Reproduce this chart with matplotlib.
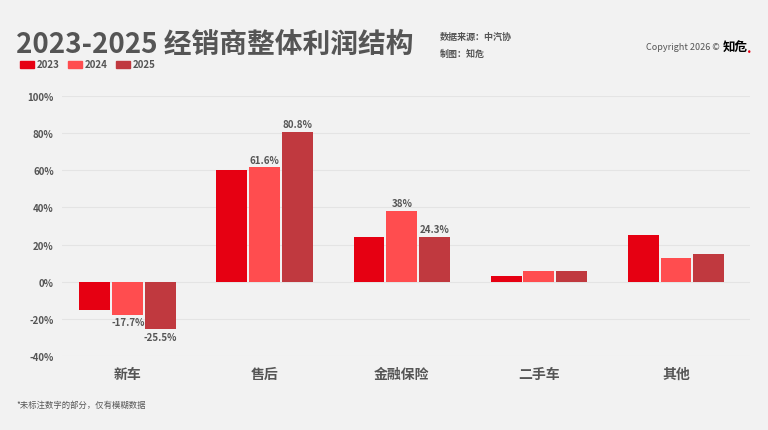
import numpy as np
import matplotlib.pyplot as plt

plt.rcParams['font.family'] = ['Noto Sans CJK SC', 'DejaVu Sans']

categories = ['新车', '售后', '金融保险', '二手车', '其他']
years = ['2023', '2024', '2025']
v2023 = [-15, 60, 24, 3, 25]
v2024 = [-17.7, 61.6, 38, 6, 13]
v2025 = [-25.5, 80.8, 24.3, 6, 15]
labels2024 = {0: '-17.7%', 1: '61.6%', 2: '38%'}
labels2025 = {0: '-25.5%', 1: '80.8%', 2: '24.3%'}
colors = ['#E60012', '#FF4D4F', '#C0393F']
bg = '#F2F2F2'
txt = '#555555'

fig = plt.figure(figsize=(7.68, 4.31), dpi=100, facecolor=bg)
ax = fig.add_axes([62/768, 1-357/431, (750-62)/768, 260/431])
ax.set_facecolor(bg)

x = np.arange(len(categories))
w = 0.226
series = [v2023, v2024, v2025]
for i, vals in enumerate(series):
    ax.bar(x + (i - 1) * 0.24, vals, w, color=colors[i], zorder=3)

for idx, lab in labels2024.items():
    v = v2024[idx]
    ax.text(x[idx], v + (1.5 if v > 0 else -1.5), lab, ha='center',
            va='bottom' if v > 0 else 'top', fontsize=7, fontweight='bold', color=txt)
for idx, lab in labels2025.items():
    v = v2025[idx]
    ax.text(x[idx] + 0.24, v + (1.5 if v > 0 else -1.5), lab, ha='center',
            va='bottom' if v > 0 else 'top', fontsize=7, fontweight='bold', color=txt)

ax.set_ylim(-40, 100)
ax.set_xlim(-0.48, 4.54)
ax.set_yticks(range(-40, 101, 20))
ax.set_yticklabels([f'{t}%' for t in range(-40, 101, 20)], fontsize=7, fontweight='bold', color=txt)
ax.set_xticks(x)
ax.set_xticklabels(categories, fontsize=10, fontweight='bold', color=txt)
ax.tick_params(length=0, pad=6)
ax.tick_params(axis='x', pad=8)
ax.grid(axis='y', color='#E4E4E4', linewidth=0.8, zorder=0)
for s in ax.spines.values():
    s.set_visible(False)

fig.text(16/768, 1-45/431, '2023-2025 经销商整体利润结构', fontsize=20, fontweight='heavy',
         color=txt, va='center')
fig.text(440/768, 1-37/431, '数据来源：中汽协', fontsize=6.5, fontweight='bold', color=txt, va='center')
fig.text(440/768, 1-54/431, '制图：知危', fontsize=6.5, fontweight='bold', color=txt, va='center')
fig.text(720/768, 1-48/431, 'Copyright 2026 ©', fontsize=6.5, color=txt, va='center', ha='right')
fig.text(723/768, 1-47/431, '知危', fontsize=9, fontweight='bold', color='black', va='center')
fig.text(747/768, 1-49/431, '.', fontsize=10, fontweight='bold', color='#E60012', va='center')

lx = 20
for i, y in enumerate(years):
    fig.patches.append(plt.Rectangle((lx/768, 1-69/431), 14/768, 7/431,
                                     transform=fig.transFigure, color=colors[i]))
    fig.text((lx+17)/768, 1-65/431, y, fontsize=7, fontweight='bold', color=txt, va='center')
    lx += 48

fig.text(16/768, 1-405/431, '*未标注数字的部分，仅有模糊数据', fontsize=6, color=txt, va='center')

fig.savefig('out.png', dpi=100, facecolor=bg)
